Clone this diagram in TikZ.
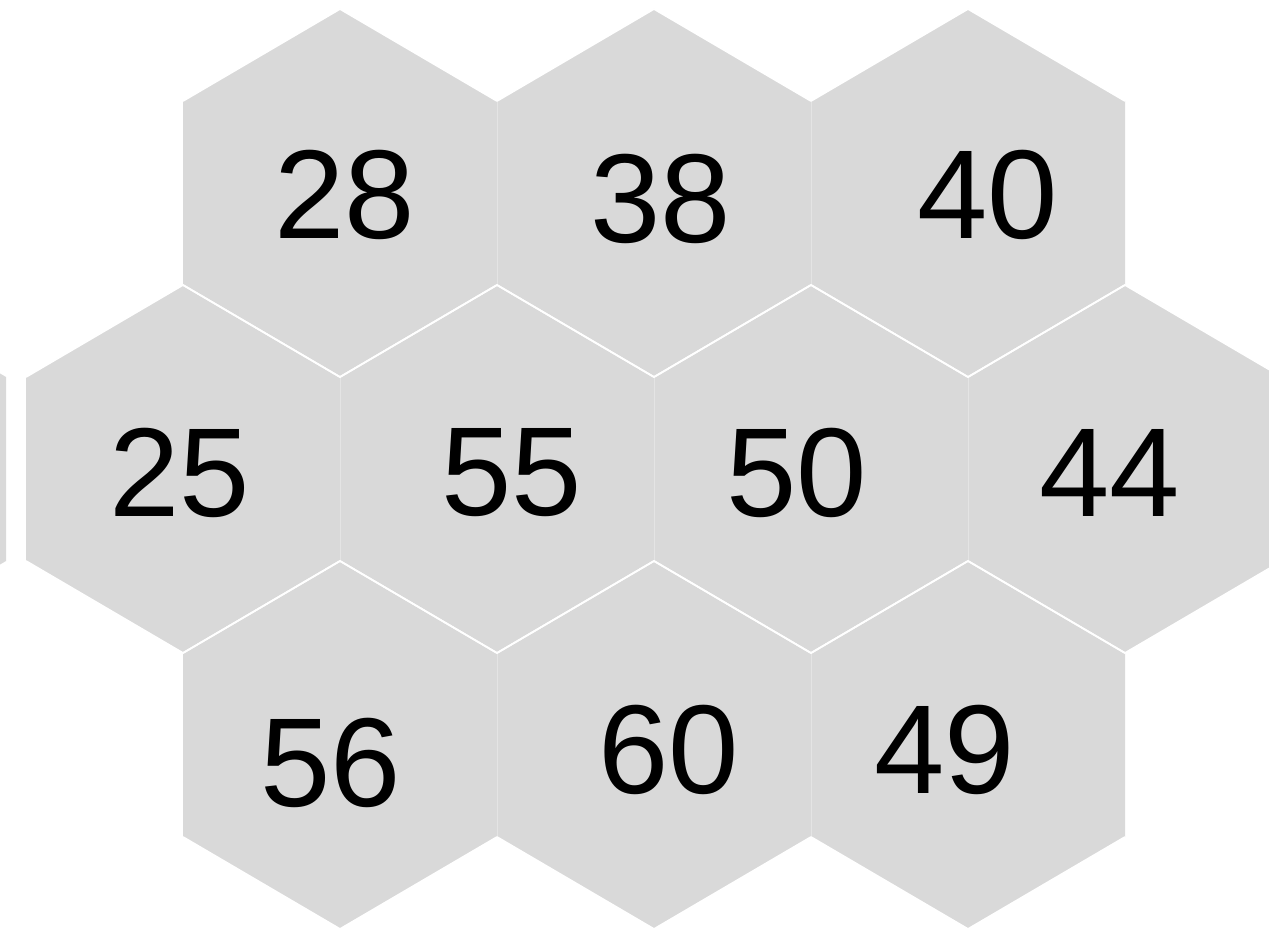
\documentclass[tikz,border=0pt]{standalone}
\usepackage{fontspec}
\setmainfont{Liberation Sans}
\definecolor{celda}{HTML}{D9D9D9}
\definecolor{junta}{HTML}{E4E4E4}

\begin{document}
\begin{tikzpicture}[
    x=0.02cm,
    y=-0.02cm,
    valor/.style={font=\fontsize{72}{72}\selectfont, text=black, inner sep=0pt}
  ]
    \useasboundingbox (0,0) rectangle (1269,929);

    % Celdas (centro x, centro y)
    \foreach \cx/\cy in {340/193, 654/193, 968/193,
                         -151/469, 183/469, 497/469, 811/469, 1125/469,
                         340/745, 654/745, 968/745} {
      \fill[celda] (\cx,\cy-184) -- (\cx+157,\cy-92) -- (\cx+157,\cy+92)
        -- (\cx,\cy+184) -- (\cx-157,\cy+92) -- (\cx-157,\cy-92) -- cycle;
    }

    % Juntas verticales (casi invisibles)
    \foreach \x/\cy in {497/193, 811/193, 340/469, 654/469, 968/469,
                        497/745, 811/745} {
      \draw[junta, line width=0.4pt] (\x,\cy-92) -- (\x,\cy+92);
    }

    % Juntas inclinadas en blanco
    \foreach \cx/\cy in {340/193, 654/193, 968/193,
                         183/469, 497/469, 811/469, 1125/469,
                         340/745, 654/745, 968/745} {
      \draw[white, line width=1pt, line join=miter]
        (\cx-157,\cy-92) -- (\cx,\cy-184) -- (\cx+157,\cy-92);
      \draw[white, line width=1pt, line join=miter]
        (\cx-157,\cy+92) -- (\cx,\cy+184) -- (\cx+157,\cy+92);
    }

    % --- Fila superior ---
    \node[valor] (v28) at (345,195) {28};
    \node[valor] (v38) at (661,199) {38};
    \node[valor] (v40) at (988,195) {40};

    % --- Fila central ---
    \node[valor] (v25) at (180,473) {25};
    \node[valor] (v55) at (512,473) {55};
    \node[valor] (v50) at (797,473) {50};
    \node[valor] (v44) at (1110,473) {44};

    % --- Fila inferior ---
    \node[valor] (v56) at (331,763) {56};
    \node[valor] (v60) at (669,750) {60};
    \node[valor] (v49) at (945,750) {49};
  \end{tikzpicture}
\end{document}
